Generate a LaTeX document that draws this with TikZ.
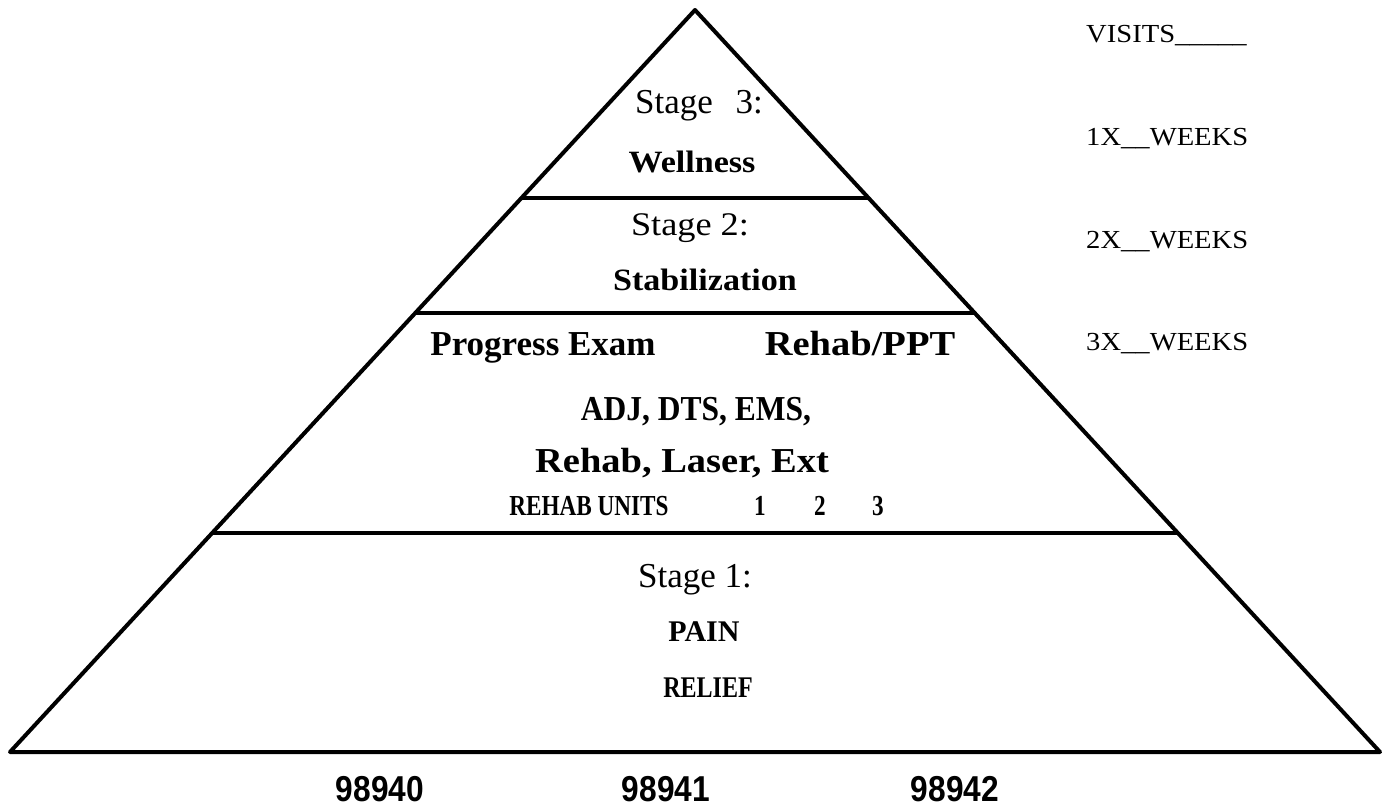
\documentclass[tikz,border=0pt]{standalone}
\usepackage{fontspec}
\setmainfont{Liberation Serif}
\newfontfamily\wideserif[FakeStretch=1.1]{Liberation Serif}
\newfontfamily\condserif[FakeStretch=0.9]{Liberation Serif}
\newfontfamily\narrowserif[FakeStretch=0.8]{Liberation Serif}
\newfontfamily\narrowsans[FakeStretch=0.88]{Liberation Sans}
\usepackage{tikz}
\usetikzlibrary{positioning, calc}
\newcommand{\fsz}[1]{\fontsize{#1}{#1}\selectfont}

\begin{document}
\begin{tikzpicture}[
    x=1pt, y=-1pt,
    edge/.style={line width=4pt, line join=round},
    txt/.style={anchor=base, inner sep=0pt},
    stagelbl/.style={txt, font=\fsz{35}},
    title/.style={txt, font=\wideserif\bfseries\fsz{31}},
    treat/.style={txt, font=\wideserif\bfseries\fsz{35}},
    units/.style={txt, font=\narrowserif\bfseries\fsz{29}},
    code/.style={txt, font=\narrowsans\bfseries\fsz{36}},
    freq/.style={anchor=base west, inner sep=0pt, font=\wideserif\fsz{26}},
]
    \path[fill=white, use as bounding box] (0,0) rectangle (1387,806);

    % pyramid outline
    \coordinate (apex) at (695,10);
    \coordinate (lft)  at (10,752);
    \coordinate (rgt)  at (1380,752);
    \draw[edge] (apex) -- (lft) -- (rgt) -- cycle;

    % band dividers
    \coordinate (s3l) at ($(apex)!0.2534!(lft)$);
    \coordinate (s3r) at ($(apex)!0.2534!(rgt)$);
    \coordinate (s2l) at ($(apex)!0.4084!(lft)$);
    \coordinate (s2r) at ($(apex)!0.4084!(rgt)$);
    \coordinate (s1l) at ($(apex)!0.7049!(lft)$);
    \coordinate (s1r) at ($(apex)!0.7049!(rgt)$);
    \draw[edge] (s3l) -- (s3r);
    \draw[edge] (s2l) -- (s2r);
    \draw[edge] (s1l) -- (s1r);

    % stage 3
    \node[stagelbl] (st3) at (699,113) {Stage\hspace{0.65em}3:};
    \node[title]    (well) at (692,172) {Wellness};

    % stage 2
    \node[stagelbl, font=\wideserif\fsz{33}] (st2) at (690,235) {Stage 2:};
    \node[title]    (stab) at (705,290) {Stabilization};

    % treatment band
    \node[treat, font=\bfseries\fsz{35}] (prog) at (543,355) {Progress Exam};
    \node[treat] (ppt)   at (860,355) {Rehab/PPT};
    \node[treat, font=\condserif\bfseries\fsz{35}] (adj) at (696,420) {ADJ, DTS, EMS,};
    \node[treat] (laser) at (682,472) {Rehab, Laser, Ext};
    \node[units] (runits) at (589,515) {REHAB UNITS};
    \node[units] (u1) at (760,515) {1};
    \node[units] (u2) at (820,515) {2};
    \node[units] (u3) at (878,515) {3};

    % stage 1
    \node[stagelbl] (st1)  at (695,587) {Stage 1:};
    \node[txt, font=\bfseries\fsz{30}] (pain) at (704,641) {PAIN};
    \node[units, font=\narrowserif\bfseries\fsz{30}] (relief) at (708,697) {RELIEF};

    % billing codes
    \node[code] (c0) at (380,801) {98940};
    \node[code] (c1) at (666,801) {98941};
    \node[code] (c2) at (955,801) {98942};

    % visit frequency
    \node[freq] (visits) at (1086,42)  {VISITS\_\_\_\_\_};
    \node[freq] (wk1)    at (1086,145) {1X\_\_WEEKS};
    \node[freq] (wk2)    at (1086,248) {2X\_\_WEEKS};
    \node[freq] (wk3)    at (1086,350) {3X\_\_WEEKS};
\end{tikzpicture}
\end{document}
